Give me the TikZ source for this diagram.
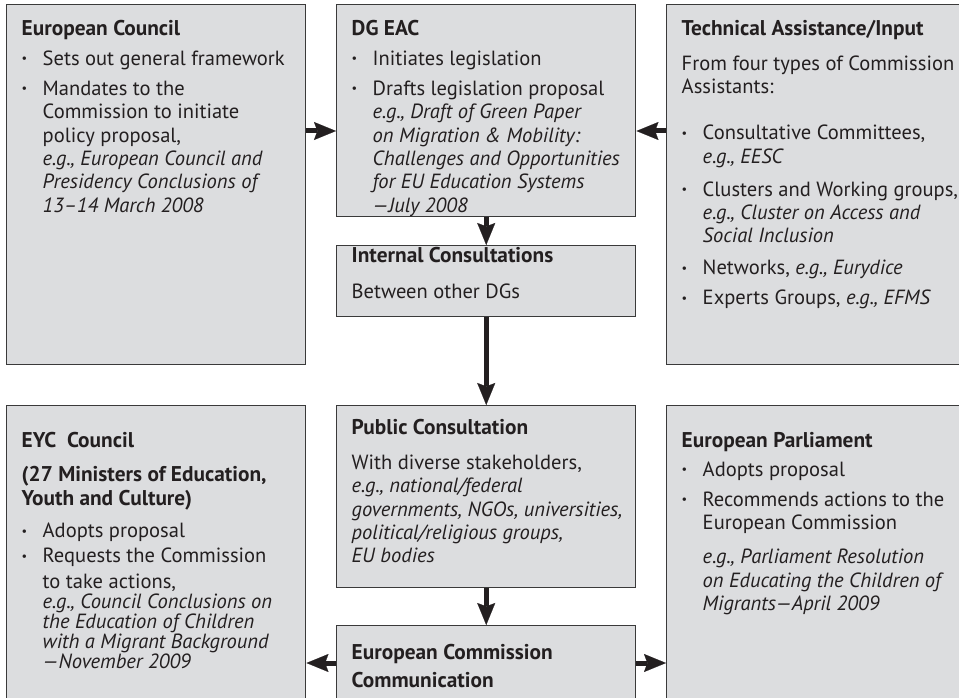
\documentclass[tikz,border=0pt]{standalone}
\usepackage{fontspec}
\setmainfont{PT Sans}
\usetikzlibrary{arrows.meta}

\definecolor{boxgray}{HTML}{DCDDDF}
\definecolor{rulegray}{HTML}{3A3A3A}
\definecolor{inkdark}{HTML}{231F20}

% box text helpers
\newcommand{\boxbody}[2]{\makebox[201.75pt][l]{\begin{minipage}[t][#1][t]{280pt}\fontsize{15.4}{17.5}\selectfont\rightskip=0pt plus 1fil\relax #2\end{minipage}}}
\newcommand{\bhead}[2][23.25pt]{\noindent\rule{0pt}{#1}{\bfseries\fontsize{16}{18.5}\selectfont #2\par}}
\newcommand{\bitem}[2][5pt]{\par\vspace{#1}\noindent\hangindent=15.75pt\hangafter=1\makebox[15.75pt][l]{\raisebox{.25ex}{\scalebox{.6}{\textbullet}}}#2\par}
\newcommand{\bnote}[3][5pt]{\par\vspace{#1}\noindent\hangindent=#2\hangafter=0 #3\par}

\begin{document}
\begin{tikzpicture}[x=0.75pt,y=-0.75pt,
    box/.style={draw=rulegray,fill=boxgray,line width=1.1pt,anchor=north west,
        inner xsep=11.25pt,inner ysep=0pt,text=inkdark},
    flow/.style={draw=inkdark,line width=3.75pt,
        -{Stealth[length=16.5pt,width=13.5pt,inset=2.5pt,line width=0.1pt]}}]
    \useasboundingbox (0,0) rectangle (959,698);

    % top row
    \node[box] (ec) at (6,4) {\boxbody{270pt}{%
        \bhead{European Council}
        \bitem[4.8pt]{Sets out general framework}
        \bitem{Mandates to the\\ Commission to initiate\\ policy proposal,\\
            \textit{e.g., European Council and}\\ \textit{Presidency Conclusions of}\\
            \textit{13–14 March 2008}}}};
    \node[box] (dg) at (336,4) {\boxbody{159pt}{%
        \bhead{DG EAC}
        \bitem[4.8pt]{Initiates legislation}
        \bitem{Drafts legislation proposal\\ \textit{e.g., Draft of Green Paper}\\
            \textit{on Migration \& Mobility:}\\ \textit{Challenges and Opportunities}\\
            \textit{for EU Education Systems}\\ \textit{—July 2008}}}};
    \node[box] (ic) at (336,245) {\boxbody{53.25pt}{%
        \bhead[12.75pt]{Internal Consultations}
        \bnote[9.5pt]{0pt}{Between other DGs}}};
    \node[box] (ta) at (666,4) {\boxbody{270pt}{%
        \bhead{Technical Assistance/Input}
        \bnote[8.5pt]{0pt}{From four types of Commission\\ Assistants:}
        \bitem[17pt]{Consultative Committees,\\ \textit{e.g., EESC}}
        \bitem[7.25pt]{Clusters and Working groups,\\ \textit{e.g., Cluster on Access and}\\
            \textit{Social Inclusion}}
        \bitem[6.5pt]{Networks, \textit{e.g., Eurydice}}
        \bitem{Experts Groups, \textit{e.g., EFMS}}}};

    % bottom row
    \node[box] (eyc) at (6,405) {\boxbody{225pt}{%
        \bhead[31.5pt]{EYC\enspace Council}
        \par\vspace{6.5pt}{\bfseries\fontsize{16}{18.5}\selectfont
            (27 Ministers of Education,\\ Youth and Culture)\par}
        \bitem[6.5pt]{Adopts proposal}
        \bitem[1.25pt]{Requests the Commission\\[1.5pt] to take actions,}
        {\itshape\baselineskip=15pt
        \bnote[0pt]{15.75pt}{e.g., Council Conclusions on\\ the Education of Children\\
            with a Migrant Background\\ —November 2009}}}};
    \node[box] (pc) at (336,405) {\boxbody{136.5pt}{%
        \bhead[21.75pt]{Public Consultation}
        \bnote[8.5pt]{0pt}{With diverse stakeholders,\\ \textit{e.g., national/federal}\\
            \textit{governments, NGOs, universities,}\\ \textit{political/religious groups,}\\
            \textit{EU bodies}}}};
    \node[box] (ecc) at (336,625) {\boxbody{60pt}{%
        \noindent\rule{0pt}{25.5pt}{\bfseries\fontsize{16}{21}\selectfont
            European Commission\\ Communication\par}}};
    \node[box] (ep) at (666,405) {\boxbody{225pt}{%
        \bhead[31.5pt]{European Parliament}
        \bitem[4pt]{Adopts proposal}
        \bitem{Recommends actions to the\\ European Commission}
        \bnote[8pt]{15.75pt}{\textit{e.g., Parliament Resolution}\\
            \textit{on Educating the Children of}\\ \textit{Migrants—April 2009}}}};

    % connectors
    \coordinate (rowA) at (0,131);
    \coordinate (rowB) at (0,663);
    \draw[flow] (ec.east |- rowA) -- (dg.west |- rowA);
    \draw[flow] (ta.west |- rowA) -- (dg.east |- rowA);
    \draw[flow] (dg.south) -- (ic.north);
    \draw[flow] (ic.south) -- (pc.north);
    \draw[flow] (pc.south) -- (ecc.north);
    \draw[flow] (ecc.west |- rowB) -- (eyc.east |- rowB);
    \draw[flow] (ecc.east |- rowB) -- (ep.west |- rowB);
\end{tikzpicture}
\end{document}
